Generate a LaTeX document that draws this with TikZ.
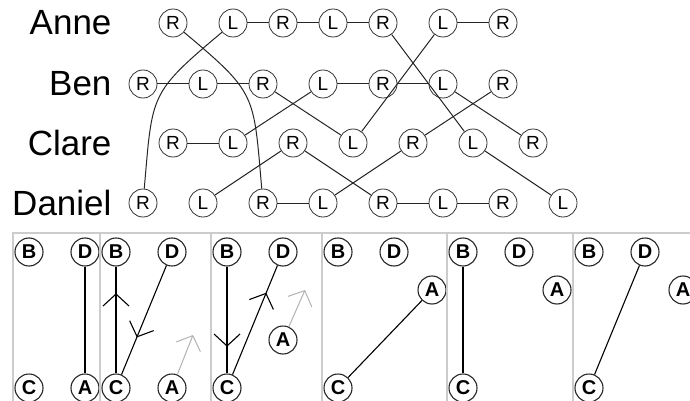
\documentclass[tikz,border=0pt]{standalone}
\usepackage{fontspec}
\setmainfont{Liberation Sans}
\usepackage{tikz}
\usetikzlibrary{arrows.meta}
\usetikzlibrary{decorations.markings}
\tikzset{
    % 上半部分的圆圈
    handnode/.style={
        circle, draw=black!80, line width=0.8pt,
        minimum size=28pt, inner sep=0pt,
        font=\fontsize{19}{19}\selectfont
    },
    namelabel/.style={
        anchor=east,
        font=\fontsize{35}{35}\selectfont
    },
    tieline/.style={line width=1pt, black!85},
    % 下半部分的圆圈
    seatnode/.style={
        circle, draw=black!85, line width=1.1pt,
        minimum size=28pt, inner sep=0pt,
        font=\fontsize{20}{20}\selectfont\bfseries
    },
    panelframe/.style={line width=1.5pt, black!20},
    seatline/.style={line width=1.1pt, black},
    midarrow/.style={
        postaction={decorate},
        decoration={markings,
            mark=at position #1 with {\arrow{Straight Barb[length=12pt,width=26pt]}}}
    },
    ghostarrow/.style={
        line width=1pt, black!30,
        -{Straight Barb[length=12pt,width=26pt]}
    }
}

\begin{document}
\begin{tikzpicture}[x=1pt,y=1pt]
    \clip (0,0) rectangle (690,-401);
    % ===================== 名字 =====================
    \node[namelabel] (anne) at (115,-23) {Anne};
    \node[namelabel] (ben) at (115,-84) {Ben};
    \node[namelabel] (clare) at (115,-143) {Clare};
    \node[namelabel] (daniel) at (115,-203) {Daniel};

    % Anne
    \node[handnode] (a1) at (173,-23) {R};
    \node[handnode] (a2) at (233,-23) {L};
    \node[handnode] (a3) at (283,-23) {R};
    \node[handnode] (a4) at (333,-23) {L};
    \node[handnode] (a5) at (383,-23) {R};
    \node[handnode] (a6) at (443,-23) {L};
    \node[handnode] (a7) at (503,-23) {R};
    % Ben
    \node[handnode] (b1) at (143,-84) {R};
    \node[handnode] (b2) at (203,-84) {L};
    \node[handnode] (b3) at (263,-84) {R};
    \node[handnode] (b4) at (323,-84) {L};
    \node[handnode] (b5) at (383,-84) {R};
    \node[handnode] (b6) at (443,-84) {L};
    \node[handnode] (b7) at (503,-84) {R};
    % Clare
    \node[handnode] (c1) at (173,-143) {R};
    \node[handnode] (c2) at (233,-143) {L};
    \node[handnode] (c3) at (293,-143) {R};
    \node[handnode] (c4) at (353,-143) {L};
    \node[handnode] (c5) at (413,-143) {R};
    \node[handnode] (c6) at (473,-143) {L};
    \node[handnode] (c7) at (533,-143) {R};
    % Daniel
    \node[handnode] (d1) at (143,-203) {R};
    \node[handnode] (d2) at (203,-203) {L};
    \node[handnode] (d3) at (263,-203) {R};
    \node[handnode] (d4) at (323,-203) {L};
    \node[handnode] (d5) at (383,-203) {R};
    \node[handnode] (d6) at (443,-203) {L};
    \node[handnode] (d7) at (503,-203) {R};
    \node[handnode] (d8) at (563,-203) {L};

    % 横线
    \draw[tieline] (a2) -- (a3) -- (a4) -- (a5);
    \draw[tieline] (a6) -- (a7);
    \draw[tieline] (b1) -- (b2) -- (b3);
    \draw[tieline] (b4) -- (b5) -- (b6);
    \draw[tieline] (c1) -- (c2);
    \draw[tieline] (d3) -- (d4);
    \draw[tieline] (d5) -- (d6) -- (d7);
    % 两条长曲线
    \draw[tieline] (a1) to[out=-40,in=95,looseness=1.4] (d3);
    \draw[tieline] (a2) to[out=-140,in=85,looseness=1.4] (d1);
    % 斜线
    \draw[tieline] (b3) -- (c4);
    \draw[tieline] (b4) -- (c2);
    \draw[tieline] (a5) -- (c6);
    \draw[tieline] (a6) -- (c4);
    \draw[tieline] (b6) -- (c7);
    \draw[tieline] (b7) -- (c5);
    \draw[tieline] (c3) -- (d2);
    \draw[tieline] (c3) -- (d5);
    \draw[tieline] (c5) -- (d4);
    \draw[tieline] (c6) -- (d8);

    % ===================== 第一格 =====================
    \begin{scope}[shift={(13,-233)}]
        \draw[panelframe] (0,-170) -- (0,0) -- (87,0);
        \node[seatnode] (b_1) at (16,-19) {B};
        \node[seatnode] (d_1) at (72,-19) {D};
        \node[seatnode] (c_1) at (16,-155) {C};
        \node[seatnode] (a_1) at (72,-155) {A};
        \draw[seatline] (d_1) -- (a_1);
    \end{scope}

    % ===================== 第二格 =====================
    \begin{scope}[shift={(100,-233)}]
        \draw[panelframe] (0,-170) -- (0,0) -- (111,0);
        \node[seatnode] (b_2) at (16,-19) {B};
        \node[seatnode] (d_2) at (72,-19) {D};
        \node[seatnode] (c_2) at (16,-155) {C};
        \node[seatnode] (a_2) at (72,-155) {A};
        \coordinate (g_2) at (93,-102);
        \draw[seatline,midarrow=0.75] (c_2) -- (b_2);
        \draw[seatline,midarrow=0.66] (d_2) -- (c_2);
        \draw[ghostarrow] (a_2) -- (g_2);
    \end{scope}

    % ===================== 第三格 =====================
    \begin{scope}[shift={(211,-233)}]
        \draw[panelframe] (0,-170) -- (0,0) -- (111,0);
        \node[seatnode] (b_3) at (16,-19) {B};
        \node[seatnode] (d_3) at (72,-19) {D};
        \node[seatnode] (c_3) at (16,-155) {C};
        \node[seatnode] (a_3) at (72,-107) {A};
        \coordinate (g_3) at (94,-57);
        \draw[seatline,midarrow=0.75] (b_3) -- (c_3);
        \draw[seatline,midarrow=0.75] (c_3) -- (d_3);
        \draw[ghostarrow] (a_3) -- (g_3);
    \end{scope}

    % ===================== 第四格 =====================
    \begin{scope}[shift={(322,-233)}]
        \draw[panelframe] (0,-170) -- (0,0) -- (125,0);
        \node[seatnode] (b_4) at (16,-19) {B};
        \node[seatnode] (d_4) at (72,-19) {D};
        \node[seatnode] (c_4) at (16,-155) {C};
        \node[seatnode] (a_4) at (110,-57) {A};
        \draw[seatline] (c_4) -- (a_4);
    \end{scope}

    % ===================== 第五格 =====================
    \begin{scope}[shift={(447,-233)}]
        \draw[panelframe] (0,-170) -- (0,0) -- (126,0);
        \node[seatnode] (b_5) at (16,-19) {B};
        \node[seatnode] (d_5) at (72,-19) {D};
        \node[seatnode] (c_5) at (16,-155) {C};
        \node[seatnode] (a_5) at (110,-57) {A};
        \draw[seatline] (b_5) -- (c_5);
    \end{scope}

    % ===================== 第六格 =====================
    \begin{scope}[shift={(573,-233)}]
        \draw[panelframe] (0,-170) -- (0,0) -- (120,0);
        \node[seatnode] (b_6) at (16,-19) {B};
        \node[seatnode] (d_6) at (72,-19) {D};
        \node[seatnode] (c_6) at (16,-155) {C};
        \node[seatnode] (a_6) at (110,-57) {A};
        \draw[seatline] (c_6) -- (d_6);
    \end{scope}
\end{tikzpicture}
\end{document}
